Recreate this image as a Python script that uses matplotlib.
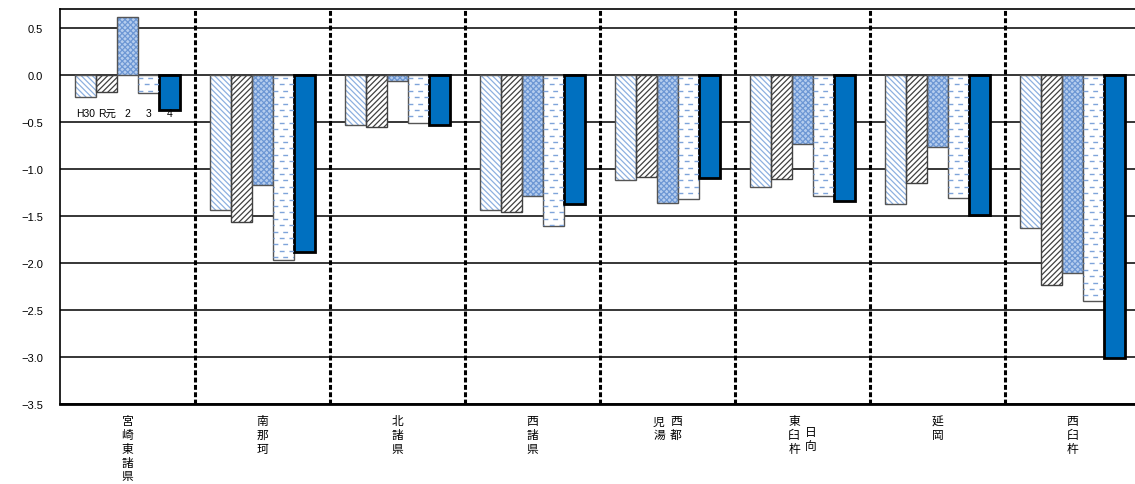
import matplotlib
matplotlib.use("Agg")
import matplotlib.pyplot as plt
import numpy as np

# 地域ごとの増減率（H30, R元, 2, 3, 4）
regions = ["宮崎東諸県", "南那珂", "北諸県", "西諸県", "西都児湯", "日向東臼杵", "延岡", "西臼杵"]
# 縦書きの列（右列が先）
region_columns = [["宮崎東諸県"], ["南那珂"], ["北諸県"], ["西諸県"],
                  ["西都", "児湯"], ["日向", "東臼杵"], ["延岡"], ["西臼杵"]]
years = ["H30", "R元", "2", "3", "4"]

h30 = [-0.24, -1.44, -0.53, -1.44, -1.12, -1.19, -1.37, -1.63]
r1 = [-0.18, -1.57, -0.55, -1.46, -1.09, -1.11, -1.15, -2.23]
r2 = [0.62, -1.17, -0.07, -1.29, -1.36, -0.74, -0.77, -2.11]
r3 = [-0.19, -1.97, -0.51, -1.61, -1.32, -1.29, -1.31, -2.41]
r4 = [-0.37, -1.88, -0.53, -1.37, -1.10, -1.34, -1.49, -3.01]
series = [h30, r1, r2, r3, r4]

y_ticks = [0.5, 0.0, -0.5, -1.0, -1.5, -2.0, -2.5, -3.0, -3.5]

plt.rcParams["font.family"] = ["Liberation Sans", "Noto Sans CJK JP", "DejaVu Sans"]
plt.rcParams["hatch.linewidth"] = 0.9

# style per series: face, hatch, hatch colour, edge colour, edge width
styles = [
    ("white", "\\\\\\\\\\\\", "#8DB0E0", "#555555", 1.0),
    ("white", "//////", "#404040", "#404040", 1.0),
    ("#B5CDEE", "xxxxxx", "#6D97D4", "#555555", 1.0),
    ("white", None, None, "#555555", 1.0),
    ("#0070C0", None, None, "black", 2.0),
]

fig = plt.figure(figsize=(11.35, 4.85), dpi=100)
ax = fig.add_axes([60 / 1135, 80 / 485, 1080 / 1135, 395 / 485])

x = np.arange(len(regions))
width = 0.155
offsets = (np.arange(len(years)) - 2) * width

dash_bars = None
for k, (vals, off, (face, hatch, hcol, ecol, elw)) in enumerate(zip(series, offsets, styles)):
    if hatch:
        ax.bar(x + off, vals, width, color=face, hatch=hatch, edgecolor=hcol,
               linewidth=0, zorder=3)
        ax.bar(x + off, vals, width, fill=False, edgecolor=ecol, linewidth=elw, zorder=4)
    else:
        bars = ax.bar(x + off, vals, width, color=face, edgecolor=ecol, linewidth=elw, zorder=4)
        if k == 3:
            dash_bars = bars

# short blue dashes inside the "3" bars
step = 0.068
for rect in dash_bars:
    y0 = rect.get_y()
    y1 = y0 + rect.get_height()
    lo, hi = min(y0, y1), max(y0, y1)
    xl, xr = rect.get_x(), rect.get_x() + rect.get_width()
    for n, yy in enumerate(np.arange(hi - step / 2, lo, -step)):
        ln, = ax.plot([xl, xr], [yy, yy], color="#7FA4DA", linewidth=1.0,
                      linestyle=(2.5 if n % 2 else 0, (3.5, 3.5)), zorder=4.5)
        ln.set_clip_path(rect)

# year labels under first group
for off, yr in zip(offsets, years):
    ax.text(0 + off, -0.46, yr, ha="center", va="bottom", fontsize=7.5,
            family=["Liberation Sans", "Noto Sans CJK JP"], zorder=5)

ax.set_ylim(-3.5, 0.7)
ax.set_xlim(-0.5, len(regions) - 0.5)
ax.set_yticks(y_ticks)
ax.set_yticklabels([f"{v:.1f}".replace("-", "\u2212") for v in y_ticks])
ax.tick_params(axis="y", length=0, pad=12, labelsize=8)
ax.set_xticks([])
for v in y_ticks:
    ax.axhline(v, color="black", linewidth=1.1, zorder=1)
for b in np.arange(0.5, len(regions) - 0.5, 1):
    ax.axvline(b, color="black", linewidth=2.2, linestyle=(0, (1.6, 0.8)), zorder=2)

for s in ax.spines.values():
    s.set_color("black")
    s.set_linewidth(1.2)
ax.spines["bottom"].set_linewidth(2)

# 縦書きの地域名 (one character per line)
char_step = 9.9  # points
for i, cols in enumerate(region_columns):
    n = len(cols)
    for j, col in enumerate(cols):
        dx = 0.0 if n == 1 else (0.063 if j == 0 else -0.063)
        dy = -7.5 if col == "日向" else 0
        for c, ch in enumerate(col):
            ax.annotate(ch, xy=(i + dx, 0), xycoords=("data", "axes fraction"),
                        xytext=(0, -7.5 + dy - c * char_step), textcoords="offset points",
                        ha="center", va="top", fontsize=8.5,
                        family=["Noto Sans CJK JP"])

fig.savefig("out.png", dpi=100)
